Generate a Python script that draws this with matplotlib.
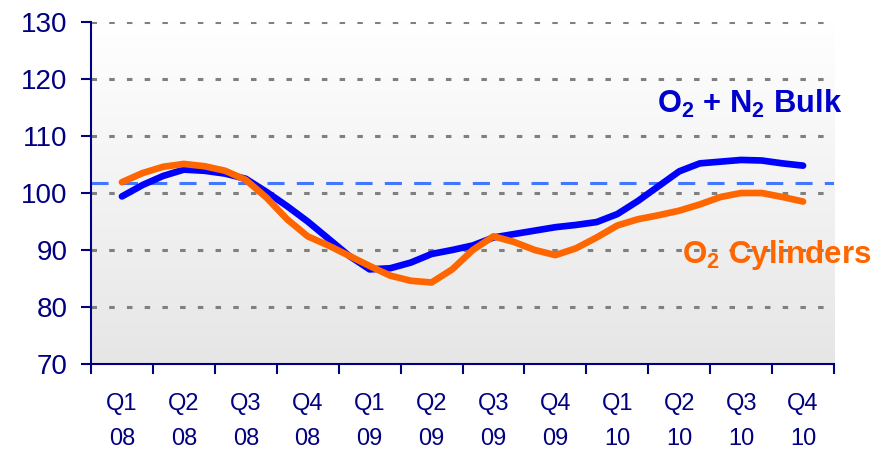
import numpy as np
import matplotlib
matplotlib.use("Agg")
from matplotlib import pyplot as plt

plt.rcParams['font.family'] = ['Liberation Sans', 'DejaVu Sans']
plt.rcParams['mathtext.default'] = 'regular'

# quarter labels and monthly index values (3-month centred, Feb 08 .. Nov 10)
quarters = ["Q1\n08", "Q2\n08", "Q3\n08", "Q4\n08",
            "Q1\n09", "Q2\n09", "Q3\n09", "Q4\n09",
            "Q1\n10", "Q2\n10", "Q3\n10", "Q4\n10"]

bulk = [99.4, 101.4, 103.0, 104.1, 103.9, 103.4, 102.5, 100.2, 97.7, 95.0,
        92.0, 89.0, 86.6, 86.8, 87.8, 89.3, 90.0, 90.8, 92.2, 92.8,
        93.4, 94.0, 94.4, 94.9, 96.3, 98.6, 101.2, 103.8, 105.2, 105.5,
        105.8, 105.7, 105.2, 104.8]

cylinders = [101.9, 103.5, 104.6, 105.1, 104.7, 103.9, 102.3, 99.2, 95.4, 92.4,
             90.8, 89.0, 87.2, 85.5, 84.6, 84.3, 86.6, 90.0, 92.4, 91.4,
             90.0, 89.1, 90.3, 92.2, 94.3, 95.4, 96.1, 96.9, 98.0, 99.3,
             100.0, 100.0, 99.3, 98.5]

average = 101.8

navy = "#000080"

fig = plt.figure(figsize=(8.85, 4.49), dpi=100)
ax = fig.add_axes([0.1028, 0.1893, 0.8396, 0.7617])

# background gradient (white at top to light grey at bottom)
grad = np.linspace(1.0, 0.0, 256).reshape(-1, 1)
ax.imshow(grad, extent=[0, 1, 0, 1], transform=ax.transAxes, aspect="auto",
          cmap=matplotlib.colors.LinearSegmentedColormap.from_list(
              "bg", ["#e6e6e6", "#ffffff"]), zorder=0)

# monthly positions, quarter centres at 0.5, 1.5, ...
x = 0.5 + np.arange(len(bulk)) / 3.0

for yv in [80, 90, 100, 110, 120, 130]:
    ax.axhline(yv, color="#808080", lw=2.2, dashes=(1.8, 4.0), zorder=1)

ax.axhline(average, color="#4477ff", lw=2.2, dashes=(5.6, 4.0), zorder=2)

ax.plot(x, bulk, color="#0000ff", lw=4.8, solid_capstyle="round", zorder=3)
ax.plot(x, cylinders, color="#ff6600", lw=4.8, solid_capstyle="round", zorder=4)

ax.set_xlim(0, 12)
ax.set_ylim(70, 130)

ax.set_xticks(np.arange(0, 13))
ax.set_xticklabels([])
ax.set_xticks(np.arange(12) + 0.5, minor=True)
ax.set_xticklabels(quarters, minor=True, fontsize=17, color=navy, linespacing=1.75)
ax.tick_params(axis="x", which="major", direction="out", length=7, width=1.5, color=navy)
ax.tick_params(axis="x", which="minor", length=0, pad=21)

ax.set_yticks(np.arange(70, 131, 10))
ax.tick_params(axis="y", direction="out", length=7, width=1.5, color=navy,
               labelsize=20, labelcolor=navy, pad=10)

for s in ["top", "right"]:
    ax.spines[s].set_visible(False)
for s in ["left", "bottom"]:
    ax.spines[s].set_color(navy)
    ax.spines[s].set_linewidth(1.5)

fig.text(657 / 885, 1 - 113 / 449, r"O$_2$ + N$_2$ Bulk", color="#0000cc",
         fontsize=22.2, fontweight="bold", ha="left", va="baseline")
fig.text(682 / 885, 1 - 263 / 449, r"O$_2$ Cylinders", color="#ff6600",
         fontsize=22.5, fontweight="bold", ha="left", va="baseline")

fig.savefig("out.png", dpi=100)
